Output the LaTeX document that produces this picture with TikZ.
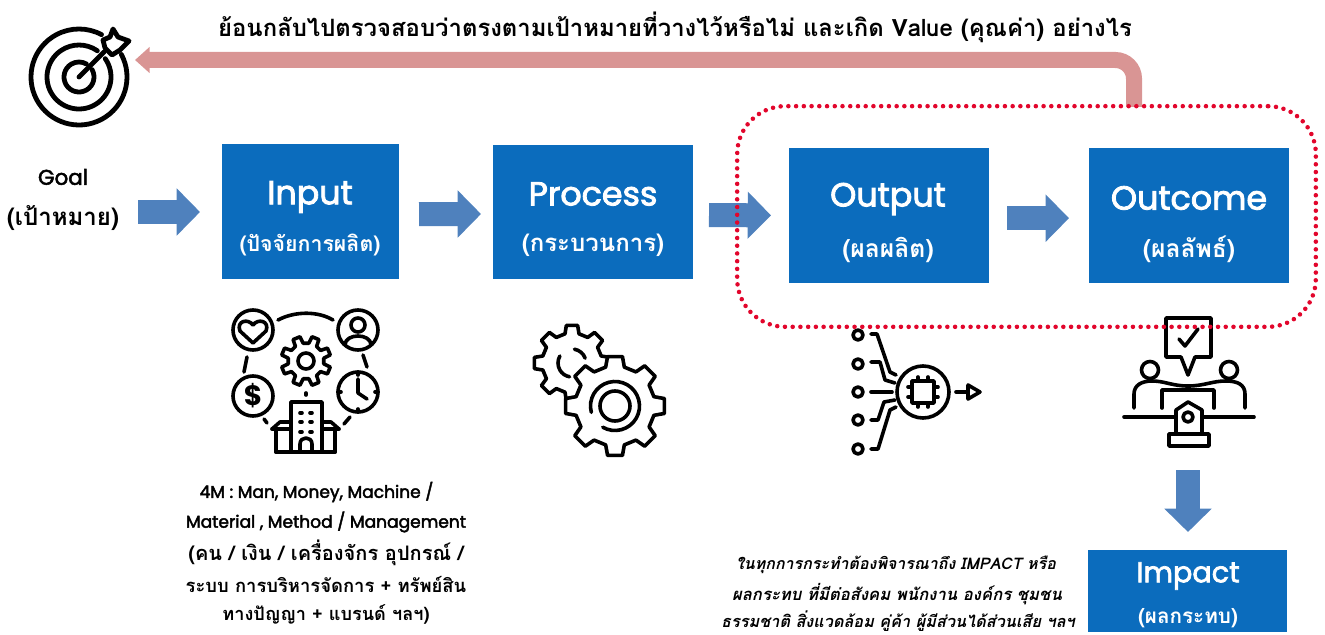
\documentclass[tikz,border=0pt]{standalone}
\usepackage{fontspec}
\usetikzlibrary{arrows.meta,calc}
\setmainfont{Loma}[Script=Thai]
\newfontfamily\popf{Poppins}
\newfontfamily\popm{Poppins}[FakeBold=2.5]
\definecolor{boxblue}{HTML}{0B6CBD}
\definecolor{arrowblue}{HTML}{4F81BD}
\definecolor{backpink}{HTML}{D99594}
\definecolor{dotred}{HTML}{E2062C}
\tikzset{
  flowbox/.style={fill=boxblue,inner sep=0pt,outer sep=0pt},
  boxtitle/.style={text=white,font=\popm\fontsize{25}{28}\selectfont,inner sep=0pt},
  boxsub/.style={text=white,inner sep=0pt},
  blockarrow/.style={draw=arrowblue,line width=18pt,-{Triangle[length=17.5pt,width=34.5pt]}},
  iconline/.style={draw=black,line width=2.7pt,line join=round,line cap=round},
  bodytext/.style={inner sep=0pt},
  impacttext/.style={font=\fontsize{12}{15}\selectfont\bfseries\itshape,inner sep=0pt},
}
\newcommand{\sz}[1]{\fontsize{#1}{#1}\selectfont\bfseries}
\newcommand{\mygear}[6]{%
  \pgfmathsetmacro{\gst}{360/#5}
  \draw[iconline,fill=white,shift={(#1,#2)},rotate=#6]
    ({-.30*\gst}:#3)
    \foreach \k in {1,...,#5}{
      -- ({(\k-1)*\gst-.19*\gst}:#4) -- ({(\k-1)*\gst+.19*\gst}:#4)
      -- ({(\k-1)*\gst+.30*\gst}:#3) -- ({\k*\gst-.30*\gst}:#3)
    } -- cycle;
}
\begin{document}
\begin{tikzpicture}[x=0.75pt,y=-0.75pt]
\useasboundingbox (0,0) rectangle (1325,635);
% title
\node[font=\sz{17.9},inner sep=0pt] (title) at (675,27) {ย้อนกลับไปตรวจสอบว่าตรงตามเป้าหมายที่วางไว้หรือไม่ และเกิด Value (คุณค่า) อย่างไร};
% boxes
\node[flowbox,minimum width=132.75pt,minimum height=101.25pt] (input) at (310.5,211.5) {};
\node[flowbox,minimum width=150pt,minimum height=100.5pt] (process) at (593,212) {};
\node[flowbox,minimum width=150pt,minimum height=101.25pt] (output) at (889,215.5) {};
\node[flowbox,minimum width=150pt,minimum height=101.25pt] (outcome) at (1189,215.5) {};
\node[flowbox,minimum width=149.25pt,minimum height=61.5pt] (impact) at (1187.5,591) {};
\node[boxtitle] (tinput) at (310,197) {Input};
\node[boxtitle] (tprocess) at (593,194) {Process};
\node[boxtitle] (toutput) at (888,199) {Output};
\node[boxtitle] (toutcome) at (1189,198) {Outcome};
\node[boxtitle,font=\popm\fontsize{21.5}{24}\selectfont] (timpact) at (1188,576) {Impact};
\node[boxsub,font=\sz{16}] (sinput) at (310,245) {(ปัจจัยการผลิต)};
\node[boxsub,font=\sz{18}] (sprocess) at (593,245) {(กระบวนการ)};
\node[boxsub,font=\sz{18.5}] (soutput) at (888,250) {(ผลผลิต)};
\node[boxsub,font=\sz{18.5}] (soutcome) at (1189,249) {(ผลลัพธ์)};
\node[boxsub,font=\sz{15.5}] (simpact) at (1188,618) {(ผลกระทบ)};
% goal
\node[font=\popm\fontsize{16}{18}\selectfont,inner sep=0pt] (goal) at (63,177) {Goal};
\node[font=\sz{18},inner sep=0pt] (goalth) at (63,218) {(เป้าหมาย)};
% blue arrows
\coordinate (a0s) at (138,212);
\coordinate (a0e) at (200,212);
\draw[blockarrow] (a0s) -- (a0e);
\draw[blockarrow,shorten <=15pt,shorten >=9pt] ([yshift=-1.9pt]input.east) -- ([yshift=-1.5pt]process.west);
\draw[blockarrow,shorten <=12pt,shorten >=13.5pt] ([yshift=-2.2pt]process.east) -- ([yshift=0pt]output.west);
\draw[blockarrow,shorten <=13.5pt,shorten >=15pt] ([yshift=-2pt]output.east) -- ([yshift=-2pt]outcome.west);
\coordinate (a4s) at (1188,470);
\coordinate (a4e) at (1188,532);
\draw[blockarrow] (a4s) -- (a4e);
% back arrow
\coordinate (backs) at (1134,107);
\coordinate (backe) at (135,60);
\draw[draw=backpink,line width=12pt,rounded corners=14pt,-{Triangle[length=11pt,width=19pt]}] (backs) -- (1134,60) -- (backe);
% target icon
\begin{scope}[iconline,line width=3.6pt]
\draw (79,77) ++(-28:48) arc[start angle=-28,end angle=298,radius=48];
\draw (79,77) ++(-35:32) arc[start angle=-35,end angle=305,radius=32];
\draw (79,77) ++(-30:15) arc[start angle=-30,end angle=300,radius=15];
\draw (79,77) -- (104,52);
\draw[fill=white] (113,29) -- (118,37) -- (129,41) -- (120,50) -- (112,55) -- (105,48) -- (103,40) -- (110,37) -- cycle;
\end{scope}
% input icon
\begin{scope}[iconline]
\draw (253,330) circle[radius=20];
\draw (358,330) circle[radius=20];
\draw (253,396) circle[radius=20];
\draw (358,392) circle[radius=20];
\draw (278,320) .. controls (295,311) and (318,311) .. (333,320);
\draw (247,357) -- (244,372);
\draw (363,355) -- (367,367);
\draw (264,419) -- (267,423);
\draw (344,424) -- (350,417);
\draw (306,393) -- (306,395);
% heart
\draw (253,343) -- (240,331) .. controls (236,321) and (248,318) .. (253,325) .. controls (258,318) and (270,321) .. (266,331) -- cycle;
% person
\draw (358,325) circle[radius=7];
\draw (345,345) .. controls (345,333) and (371,333) .. (371,345);
% clock
\draw (358,379) -- (358,393) -- (367,399);
\draw (358,372) -- (358,375) (358,409) -- (358,412) (338,392) -- (341,392) (375,392) -- (378,392);
% building
\draw (291,452) -- (291,402) -- (322,402) -- (322,452);
\draw (276,452) -- (335,452);
\draw (276,429) -- (276,452) (335,429) -- (335,452);
\draw (272,429) -- (280,422) -- (291,422) (339,429) -- (331,422) -- (322,422);
\draw (272,429) -- (291,429) (339,429) -- (322,429);
\draw (300,452) -- (300,444) .. controls (300,436) and (312,436) .. (312,444) -- (312,452);
\foreach \yy in {413,422,432}{\draw (300,\yy) -- (302,\yy) (310,\yy) -- (312,\yy);}
\end{scope}
\node[font=\popf\fontsize{21}{22}\selectfont\bfseries,inner sep=0pt] (dollar) at (253,396) {\$};
\mygear{306}{361}{18}{25}{8}{22.5}
\draw[iconline] (306,361) circle[radius=8];
% process icon
\mygear{572}{363}{30}{38}{8}{0}
\draw[iconline] (572,363) ++(-20:14) arc[start angle=-20,end angle=-80,radius=14];
\draw[iconline] (572,363) ++(-150:14) arc[start angle=-150,end angle=-260,radius=14];
\mygear{615}{406}{40}{50}{8}{0}
\draw[iconline] (615,406) circle[radius=15];
\draw[iconline] (615,406) ++(-195:24.5) arc[start angle=-195,end angle=120,radius=24.5];
% output icon
\begin{scope}[iconline]
\foreach \yy in {335,364,392,420,449}{\draw (858,\yy) circle[radius=5];}
\draw (871,334) -- (877,334) -- (890,372) -- (896,375);
\draw (871,362) -- (880,362) -- (885,380) -- (895,383);
\draw (871,392) -- (892,392);
\draw (871,420) -- (878,420) -- (884,402) -- (895,400);
\draw (871,449) -- (878,449) -- (890,410) -- (896,407);
\draw (923,392) circle[radius=26];
\draw (912,381) rectangle (934,403);
\foreach \dd in {-5,5}{\draw (923+\dd,377) -- (923+\dd,381) (923+\dd,403) -- (923+\dd,407) (908,392+\dd) -- (912,392+\dd) (934,392+\dd) -- (938,392+\dd);}
\draw (956,392) -- (968,392);
\draw (968,385) -- (980,392) -- (968,399) -- cycle;
\end{scope}
% outcome icon
\begin{scope}[iconline]
\draw (1166,318) -- (1211,318) -- (1211,357) -- (1195,357) -- (1188,375) -- (1181,357) -- (1166,357) -- cycle;
\draw (1179,339) -- (1185,346) -- (1198,329);
\draw (1150,370) circle[radius=8.5];
\draw (1229,370) circle[radius=8.5];
\draw (1134,408) -- (1134,394) .. controls (1134,385) and (1142,381) .. (1152,381) .. controls (1165,381) and (1172,386) .. (1188,386) .. controls (1204,386) and (1212,381) .. (1226,381) .. controls (1238,381) and (1245,385) .. (1245,394) -- (1245,408);
\draw (1162,408) -- (1162,390) -- (1214,390) -- (1214,408);
\draw (1124,417) -- (1176,417) (1202,417) -- (1254,417);
\draw (1176,432) -- (1176,410) -- (1188,402) -- (1202,410) -- (1202,432);
\draw (1188,417) circle[radius=5];
\draw (1169,434) rectangle (1209,446);
\end{scope}
% red dotted frame
\node[draw=dotred,line width=3.4pt,dash pattern=on 0pt off 5.8pt,line cap=round,rounded corners=36pt,inner sep=0pt,outer sep=0pt,minimum width=434pt,minimum height=165.5pt] (focus) at (1026.5,216.5) {};
% body text
\node[bodytext,font=\popm\fontsize{12.8}{15}\selectfont] (b1) at (316.5,492) {4M : Man, Money, Machine /};
\node[bodytext,font=\popm\fontsize{12.8}{15}\selectfont] (b2) at (326,522) {Material , Method / Management};
\node[bodytext,font=\sz{15}] (b3) at (326,553) {(คน / เงิน / เครื่องจักร อุปกรณ์ /};
\node[bodytext,font=\sz{13.8}] (b4) at (326,584) {ระบบ การบริหารจัดการ + ทรัพย์สิน};
\node[bodytext,font=\sz{13.6}] (b5) at (326,614) {ทางปัญญา + แบรนด์ ฯลฯ)};
\node[impacttext] (i1) at (896,565) {ในทุกการกระทำต้องพิจารณาถึง IMPACT หรือ};
\node[impacttext,font=\fontsize{12.5}{15}\selectfont\bfseries\itshape] (i2) at (897,594) {ผลกระทบ ที่มีต่อสังคม พนักงาน องค์กร ชุมชน};
\node[impacttext,font=\fontsize{12.2}{15}\selectfont\bfseries\itshape] (i3) at (898,621) {ธรรมชาติ สิ่งแวดล้อม คู่ค้า ผู้มีส่วนได้ส่วนเสีย ฯลฯ};
\end{tikzpicture}
\end{document}
